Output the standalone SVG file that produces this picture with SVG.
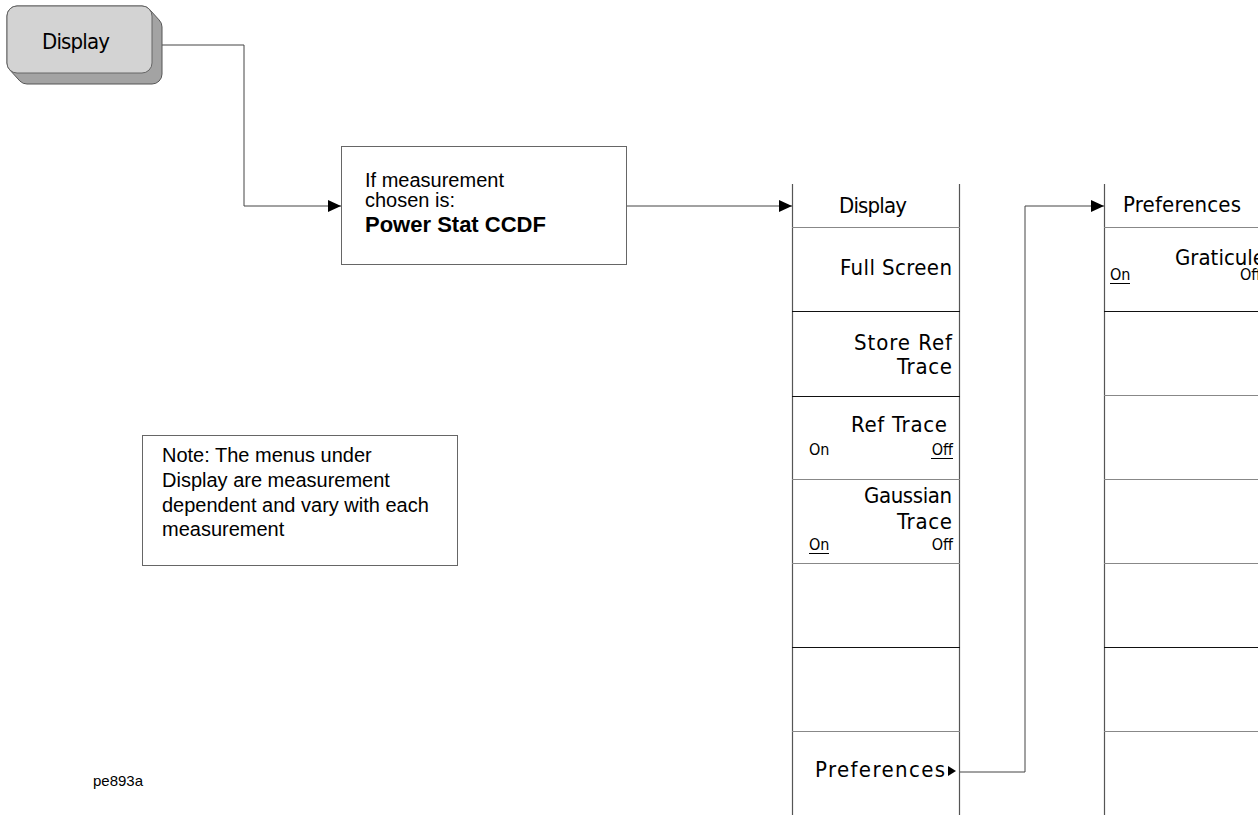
<svg xmlns="http://www.w3.org/2000/svg" width="1258" height="815" viewBox="0 0 1258 815">
<defs>
<style>
.bg{fill:#fff}
.box{fill:#fff;stroke:#666;stroke-width:1}
.col{stroke:#555;stroke-width:1.2;fill:none}
.div{stroke:#888;stroke-width:1.2}
.divd{stroke:#111;stroke-width:1.2}
.conn{stroke:#444;stroke-width:1;fill:none}
.t{font-family:"Liberation Sans",Arial,sans-serif;fill:#000}
.m{font-family:"DejaVu Sans Condensed","DejaVu Sans","Liberation Sans",sans-serif;font-stretch:condensed;font-size:22px;fill:#000}
.s{font-family:"DejaVu Sans Condensed","DejaVu Sans","Liberation Sans",sans-serif;font-stretch:condensed;font-size:16px;fill:#000}
.u{stroke:#000;stroke-width:1}
</style>
<marker id="arr" markerWidth="14" markerHeight="12" refX="13" refY="6" orient="auto" markerUnits="userSpaceOnUse">
<path d="M0,0 L13,6 L0,12 Z" fill="#000"/>
</marker>
</defs>
<rect class="bg" x="0" y="0" width="1258" height="815"/>

<g id="connectors">
<polyline class="conn" points="162,45 244,45 244,206 341,206" marker-end="url(#arr)"/>
<polyline class="conn" points="626,206 792,206" marker-end="url(#arr)"/>
<polyline class="conn" points="959,772 1025,772 1025,206 1104,206" marker-end="url(#arr)"/>
</g>

<g id="display-key">
<path d="M17,6 L142,6 A10,10 0 0 1 149.07,8.93 L159.07,19.93 A10,10 0 0 1 162,27 L162,74 A10,10 0 0 1 152,84 L27,84 A10,10 0 0 1 19.93,81.07 L9.93,70.07 A10,10 0 0 1 7,63 L7,16 A10,10 0 0 1 17,6 Z" fill="#a3a3a3" stroke="#555" stroke-width="1"/>
<rect x="7" y="6" width="145" height="67" rx="10" ry="10" fill="#d3d3d3" stroke="#666" stroke-width="1"/>
<text class="m" x="76" y="49" text-anchor="middle" textLength="68">Display</text>
</g>

<g id="condition-box">
<rect class="box" x="341.5" y="146.5" width="285" height="118"/>
<text class="t" x="365" y="187" font-size="20">If measurement</text>
<text class="t" x="365" y="207" font-size="20">chosen is:</text>
<text class="t" x="365" y="232" font-size="22" font-weight="bold">Power Stat CCDF</text>
</g>

<g id="note-box">
<rect class="box" x="142.5" y="435.5" width="315" height="130"/>
<text class="t" x="162" y="462" font-size="20">Note: The menus under</text>
<text class="t" x="162" y="487" font-size="20">Display are measurement</text>
<text class="t" x="162" y="512" font-size="20">dependent and vary with each</text>
<text class="t" x="162" y="536" font-size="20">measurement</text>
</g>

<g id="label">
<text class="t" x="93" y="786" font-size="15">pe893a</text>
</g>

<g id="display-menu">
<line class="col" x1="792.5" y1="184" x2="792.5" y2="815"/>
<line class="col" x1="959.5" y1="184" x2="959.5" y2="815"/>
<line class="div" x1="792" y1="227.5" x2="960" y2="227.5"/>
<line class="divd" x1="792" y1="311.5" x2="960" y2="311.5"/>
<line class="divd" x1="792" y1="396.5" x2="960" y2="396.5"/>
<line class="div" x1="792" y1="479.5" x2="960" y2="479.5"/>
<line class="div" x1="792" y1="563.5" x2="960" y2="563.5"/>
<line class="divd" x1="792" y1="647.5" x2="960" y2="647.5"/>
<line class="div" x1="792" y1="731.5" x2="960" y2="731.5"/>
<text class="m" x="873" y="213" text-anchor="middle" textLength="68">Display</text>
<text class="m" x="952" y="275" text-anchor="end" textLength="112">Full Screen</text>
<text class="m" x="952" y="350" text-anchor="end" textLength="98">Store Ref</text>
<text class="m" x="952" y="374" text-anchor="end" textLength="55">Trace</text>
<text class="m" x="947" y="432" text-anchor="end" textLength="96">Ref Trace</text>
<text class="s" x="809" y="455">On</text>
<text class="s" x="953" y="455" text-anchor="end">Off</text>
<line class="u" x1="931" y1="458.5" x2="953" y2="458.5"/>
<text class="m" x="952" y="503" text-anchor="end" textLength="88">Gaussian</text>
<text class="m" x="952" y="529" text-anchor="end" textLength="55">Trace</text>
<text class="s" x="809" y="550">On</text>
<line class="u" x1="809" y1="553.5" x2="829" y2="553.5"/>
<text class="s" x="953" y="550" text-anchor="end">Off</text>
<text class="m" x="945" y="777" text-anchor="end" textLength="130">Preferences</text>
<path d="M948,766 L956,771 L948,776 Z" fill="#000"/>
</g>

<g id="preferences-menu">
<line class="col" x1="1104.5" y1="184" x2="1104.5" y2="815"/>
<line class="div" x1="1104" y1="227.5" x2="1258" y2="227.5"/>
<line class="divd" x1="1104" y1="311.5" x2="1258" y2="311.5"/>
<line class="div" x1="1104" y1="395.5" x2="1258" y2="395.5"/>
<line class="div" x1="1104" y1="479.5" x2="1258" y2="479.5"/>
<line class="div" x1="1104" y1="563.5" x2="1258" y2="563.5"/>
<line class="divd" x1="1104" y1="647.5" x2="1258" y2="647.5"/>
<line class="div" x1="1104" y1="731.5" x2="1258" y2="731.5"/>
<text class="m" x="1182" y="212" text-anchor="middle" textLength="118">Preferences</text>
<text class="m" x="1175" y="265" textLength="90">Graticule</text>
<text class="s" x="1110" y="280">On</text>
<line class="u" x1="1110" y1="283.5" x2="1130" y2="283.5"/>
<text class="s" x="1240" y="280">Off</text>
</g>
</svg>
